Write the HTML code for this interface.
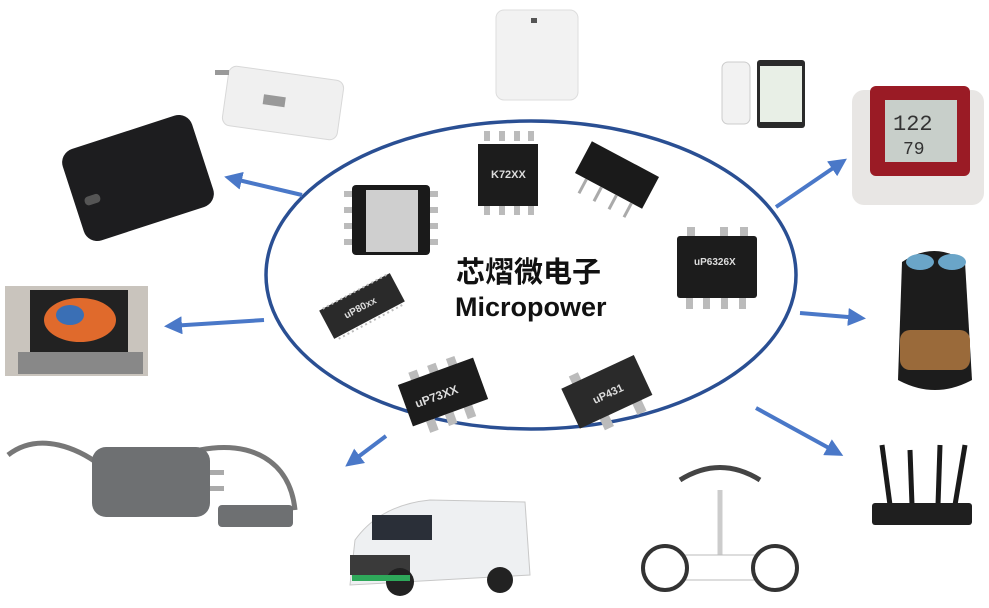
<!DOCTYPE html>
<html><head><meta charset="utf-8"><style>
html,body{margin:0;padding:0;background:#fff}
svg{display:block}
</style></head><body>
<svg width="989" height="608" viewBox="0 0 989 608" xmlns="http://www.w3.org/2000/svg">
<defs>
<marker id="ah" markerWidth="4.5" markerHeight="4.5" refX="3" refY="2.25" orient="auto" markerUnits="strokeWidth">
<path d="M0,0 L4.5,2.25 L0,4.5 z" fill="#4a78c8"/></marker>
</defs>
<rect width="989" height="608" fill="#fff"/>
<ellipse cx="531" cy="275" rx="265" ry="154" fill="none" stroke="#2a4f93" stroke-width="3.5"/>
<g stroke="#4a78c8" stroke-width="4" fill="none" marker-end="url(#ah)">
<line x1="302" y1="195" x2="230" y2="178"/>
<line x1="264" y1="320" x2="170" y2="326"/>
<line x1="386" y1="436" x2="350" y2="463"/>
<line x1="776" y1="207" x2="842" y2="162"/>
<line x1="800" y1="313" x2="860" y2="318"/>
<line x1="756" y1="408" x2="838" y2="453"/>
</g>
<text x="456" y="282" font-family="Liberation Sans, Noto Sans CJK SC, sans-serif" font-size="29" font-weight="bold" fill="#111">芯熠微电子</text>
<text x="455" y="316" font-family="Liberation Sans, sans-serif" font-size="27" font-weight="bold" fill="#111">Micropower</text>
<g><rect x="352" y="185" width="78" height="70" rx="4" fill="#1a1a1a"/>
<rect x="366" y="190" width="52" height="62" fill="#cfcfcf"/>
<g fill="#bbb"><rect x="344" y="191" width="8" height="6"/><rect x="344" y="207" width="8" height="6"/><rect x="344" y="223" width="8" height="6"/><rect x="344" y="239" width="8" height="6"/>
<rect x="430" y="191" width="8" height="6"/><rect x="430" y="207" width="8" height="6"/><rect x="430" y="223" width="8" height="6"/><rect x="430" y="239" width="8" height="6"/></g></g>
<g><g fill="#bbb"><rect x="484" y="131" width="6" height="10"/><rect x="499" y="131" width="6" height="10"/><rect x="514" y="131" width="6" height="10"/><rect x="528" y="131" width="6" height="10"/>
<rect x="484" y="205" width="6" height="10"/><rect x="499" y="205" width="6" height="10"/><rect x="514" y="205" width="6" height="10"/><rect x="528" y="205" width="6" height="10"/></g>
<rect x="478" y="144" width="60" height="62" fill="#1c1c1c"/>
<text x="491" y="178" font-family="Liberation Sans, sans-serif" font-size="11" font-weight="bold" fill="#ddd">K72XX</text></g>
<g transform="translate(617,175) rotate(28)"><rect x="-38" y="-18" width="76" height="36" fill="#1a1a1a"/>
<g stroke="#aaa" stroke-width="3"><line x1="-25" y1="18" x2="-25" y2="34"/><line x1="-8" y1="18" x2="-8" y2="34"/><line x1="9" y1="18" x2="9" y2="34"/><line x1="26" y1="18" x2="26" y2="34"/></g></g>
<g><g fill="#bbb"><rect x="687" y="227" width="8" height="10"/><rect x="720" y="227" width="8" height="10"/><rect x="740" y="227" width="8" height="10"/>
<rect x="686" y="297" width="7" height="12"/><rect x="703" y="297" width="7" height="12"/><rect x="721" y="297" width="7" height="12"/><rect x="739" y="297" width="7" height="12"/></g>
<rect x="677" y="236" width="80" height="62" rx="3" fill="#1c1c1c"/>
<text x="694" y="265" font-family="Liberation Sans, sans-serif" font-size="10" font-weight="bold" fill="#ddd">uP6326X</text></g>
<g transform="translate(362,306) rotate(-28)"><rect x="-40" y="-16" width="80" height="32" fill="#2a2a2a"/>
<g stroke="#bbb" stroke-width="2"><line x1="-36" y1="-16" x2="36" y2="-16" stroke-dasharray="2,3"/><line x1="-36" y1="18" x2="36" y2="18" stroke-dasharray="2,3"/></g>
<text x="-20" y="4" font-family="Liberation Sans, sans-serif" font-size="10" font-weight="bold" fill="#ddd">uP80xx</text></g>
<g transform="translate(443,392) rotate(-20)"><g fill="#bbb"><rect x="-26" y="-30" width="9" height="10"/><rect x="-6" y="-30" width="9" height="10"/><rect x="14" y="-30" width="9" height="10"/>
<rect x="-26" y="22" width="9" height="12"/><rect x="-6" y="22" width="9" height="12"/><rect x="14" y="22" width="9" height="12"/></g>
<rect x="-40" y="-22" width="80" height="44" fill="#1c1c1c"/>
<text x="-30" y="6" font-family="Liberation Sans, sans-serif" font-size="12" font-weight="bold" fill="#ddd">uP73XX</text></g>
<g transform="translate(606,390) rotate(-25)"><g fill="#bbb"><rect x="-28" y="-28" width="10" height="10"/><rect x="-18" y="22" width="10" height="14"/><rect x="18" y="22" width="10" height="14"/></g>
<rect x="-40" y="-20" width="80" height="44" fill="#2a2a2a"/>
<text x="-16" y="8" font-family="Liberation Sans, sans-serif" font-size="11" font-weight="bold" fill="#ddd">uP431</text></g>
<rect x="496" y="10" width="82" height="90" rx="8" fill="#f2f2f2" stroke="#ddd"/>
<rect x="531" y="18" width="6" height="5" fill="#555"/>
<g transform="translate(283,103) rotate(8)"><rect x="-58" y="-30" width="116" height="60" rx="8" fill="#f0f0f0" stroke="#d8d8d8"/>
<rect x="-20" y="-6" width="22" height="10" fill="#999"/></g>
<rect x="215" y="70" width="14" height="5" fill="#999"/>
<g transform="translate(138,178) rotate(-18)"><rect x="-68" y="-48" width="136" height="96" rx="14" fill="#1d1d1f"/>
<rect x="-58" y="2" width="16" height="9" rx="4" fill="#555"/></g>
<rect x="5" y="286" width="143" height="90" fill="#c9c4bd"/>
<rect x="30" y="290" width="98" height="62" fill="#222"/>
<ellipse cx="80" cy="320" rx="36" ry="22" fill="#e06a2c"/>
<ellipse cx="70" cy="315" rx="14" ry="10" fill="#3a6fb5"/>
<rect x="18" y="352" width="125" height="22" fill="#888"/>
<path d="M8,455 C40,430 80,450 100,465" stroke="#777" stroke-width="5" fill="none"/>
<path d="M200,450 C250,440 290,460 295,510" stroke="#777" stroke-width="5" fill="none"/>
<rect x="92" y="447" width="118" height="70" rx="14" fill="#6e7072"/>
<rect x="210" y="470" width="14" height="5" fill="#aaa"/><rect x="210" y="486" width="14" height="5" fill="#aaa"/>
<rect x="218" y="505" width="75" height="22" rx="4" fill="#6e7072"/>
<path d="M350,585 L355,540 Q380,505 430,500 L525,502 L530,575 Z" fill="#eef0f2" stroke="#c8c8c8"/>
<rect x="372" y="515" width="60" height="25" fill="#2a2f38"/>
<rect x="350" y="555" width="60" height="20" fill="#3a3a3a"/>
<circle cx="400" cy="582" r="14" fill="#222"/><circle cx="500" cy="580" r="13" fill="#222"/>
<rect x="352" y="575" width="58" height="6" fill="#2ea85a"/>
<line x1="720" y1="490" x2="720" y2="555" stroke="#ccc" stroke-width="5"/>
<path d="M680,480 Q720,455 760,480" stroke="#444" stroke-width="5" fill="none"/>
<rect x="670" y="555" width="100" height="25" rx="10" fill="#fff" stroke="#bbb"/>
<circle cx="665" cy="568" r="22" fill="#fff" stroke="#333" stroke-width="4"/>
<circle cx="775" cy="568" r="22" fill="#fff" stroke="#333" stroke-width="4"/>
<g stroke="#1a1a1a" stroke-width="5"><line x1="882" y1="445" x2="890" y2="505"/><line x1="910" y1="450" x2="912" y2="505"/><line x1="940" y1="445" x2="938" y2="505"/><line x1="965" y1="445" x2="955" y2="505"/></g>
<rect x="872" y="503" width="100" height="22" rx="3" fill="#1f1f1f"/>
<path d="M902,262 Q935,240 965,262 L972,380 Q935,400 898,380 Z" fill="#1c1c1c"/>
<rect x="900" y="330" width="70" height="40" rx="10" fill="#9a6a3a"/>
<ellipse cx="920" cy="262" rx="14" ry="8" fill="#6aa5c8"/><ellipse cx="952" cy="262" rx="14" ry="8" fill="#6aa5c8"/>
<rect x="852" y="90" width="132" height="115" rx="12" fill="#e8e6e4"/>
<rect x="870" y="86" width="100" height="90" rx="6" fill="#9a1b25"/>
<rect x="885" y="100" width="72" height="62" fill="#c8cfca"/>
<text x="893" y="130" font-family="Liberation Mono, monospace" font-size="22" fill="#333">122</text>
<text x="903" y="154" font-family="Liberation Mono, monospace" font-size="18" fill="#333">79</text>
<rect x="722" y="62" width="28" height="62" rx="6" fill="#f2f2f2" stroke="#ccc"/>
<rect x="757" y="60" width="48" height="68" rx="3" fill="#2a2a2a"/>
<rect x="760" y="66" width="42" height="56" fill="#e8efe6"/>
</svg>
</body></html>
